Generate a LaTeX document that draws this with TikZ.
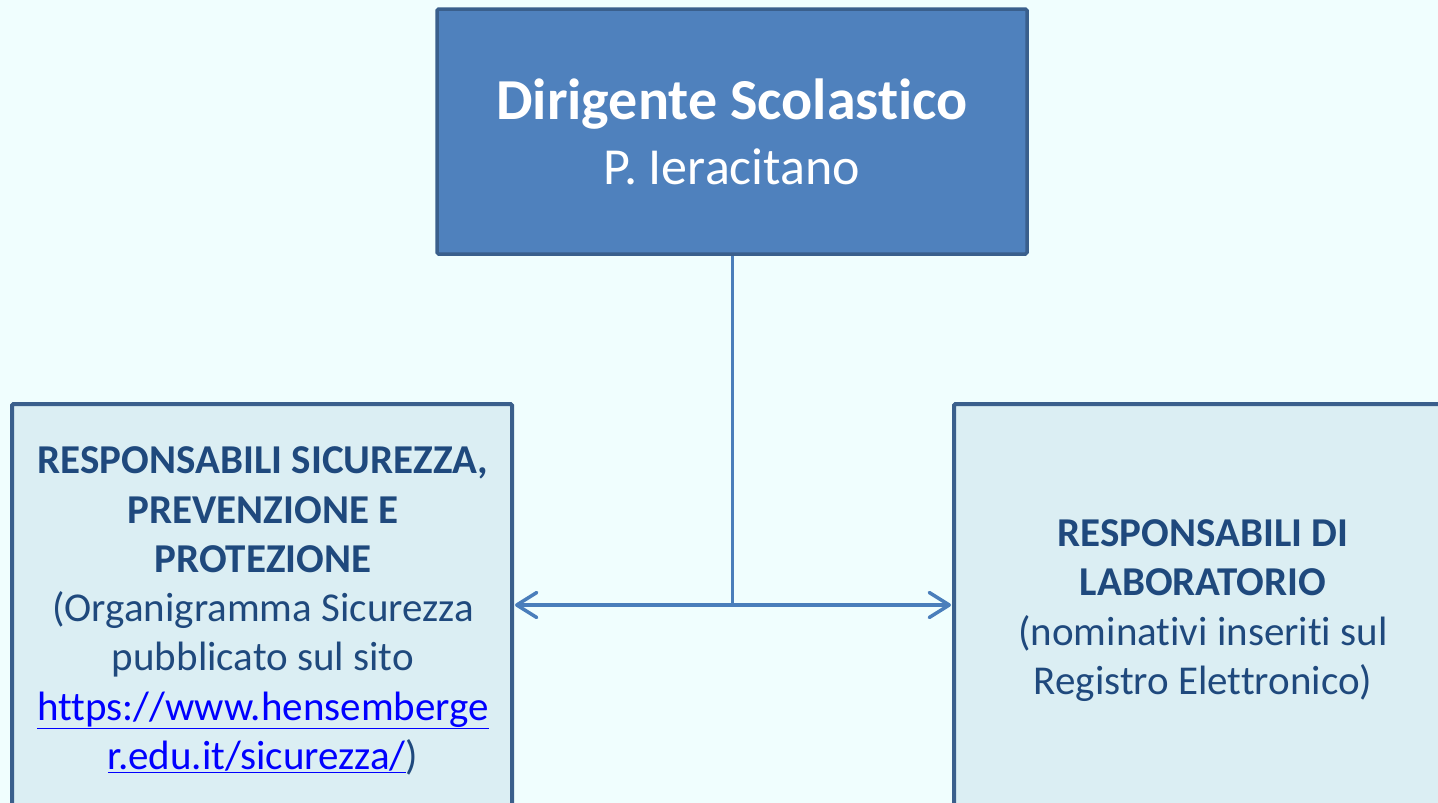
\documentclass[tikz,border=0pt]{standalone}
\usepackage{fontspec}
\setmainfont{Carlito}[Ligatures=NoCommon]
\usetikzlibrary{arrows.meta,calc}
\definecolor{bgc}{HTML}{F0FEFE}
\definecolor{topfill}{HTML}{4F81BD}
\definecolor{boxfill}{HTML}{DBEEF3}
\definecolor{bordc}{HTML}{3A5F8C}
\definecolor{linec}{HTML}{4A7EBB}
\definecolor{txtc}{HTML}{1F497D}
\definecolor{linkc}{HTML}{0000FF}
\tikzset{barbtip/.tip={Straight Barb[length=20pt,width=25pt,round]}}
\begin{document}
\begin{tikzpicture}[x=1pt,y=-1pt,
  topbox/.style={draw=bordc,fill=topfill,line width=3.5pt,rounded corners=1.5pt,
    minimum width=590pt,minimum height=245pt,inner sep=0pt},
  sidebox/.style={draw=bordc,fill=boxfill,line width=4pt,rounded corners=1.5pt,
    minimum width=500pt,minimum height=402pt,inner sep=0pt},
  sidetxt/.style={text=txtc,align=center,inner sep=0pt,font=\fontsize{41}{49.3}\selectfont},
  conn/.style={draw=linec,line width=3pt}]
\fill[bgc] (0,0) rectangle (1438,803);
\useasboundingbox (0,0) rectangle (1438,803);
\node[topbox] (top) at (732,131.5) {};
\node[text=white,anchor=base,inner sep=0pt,font=\fontsize{58}{65}\selectfont\bfseries] (title) at (732,119) {Dirigente Scolastico};
\node[text=white,anchor=base,inner sep=0pt,font=\fontsize{52}{60}\selectfont] (name) at (732,184) {P. Ieracitano};
\node[sidebox] (left) at (262,605) {};
\node[sidebox] (right) at (1204,605) {};
\node[sidetxt] (lefttxt) at (263,611)
  {\bfseries RESPONSABILI SICUREZZA,\\ \bfseries PREVENZIONE E\\ \bfseries PROTEZIONE\\
   (Organigramma Sicurezza\\ pubblicato sul sito\\
   \textcolor{linkc}{\underline{https://www.hensemberge}}\\
   \textcolor{linkc}{\underline{r.edu.it/sicurezza/}})};
\node[sidetxt] (righttxt) at (1203,610.5)
  {\bfseries RESPONSABILI DI\\ \bfseries LABORATORIO\\
   (nominativi inseriti sul\\ Registro Elettronico)};
\coordinate (j) at (top.south |- left.east);
\draw[conn] (top.south) -- (j);
\draw[conn,line width=3.5pt,{barbtip}-{barbtip}] ([xshift=1pt]left.east) -- ([xshift=-1pt]right.west);
\end{tikzpicture}
\end{document}
